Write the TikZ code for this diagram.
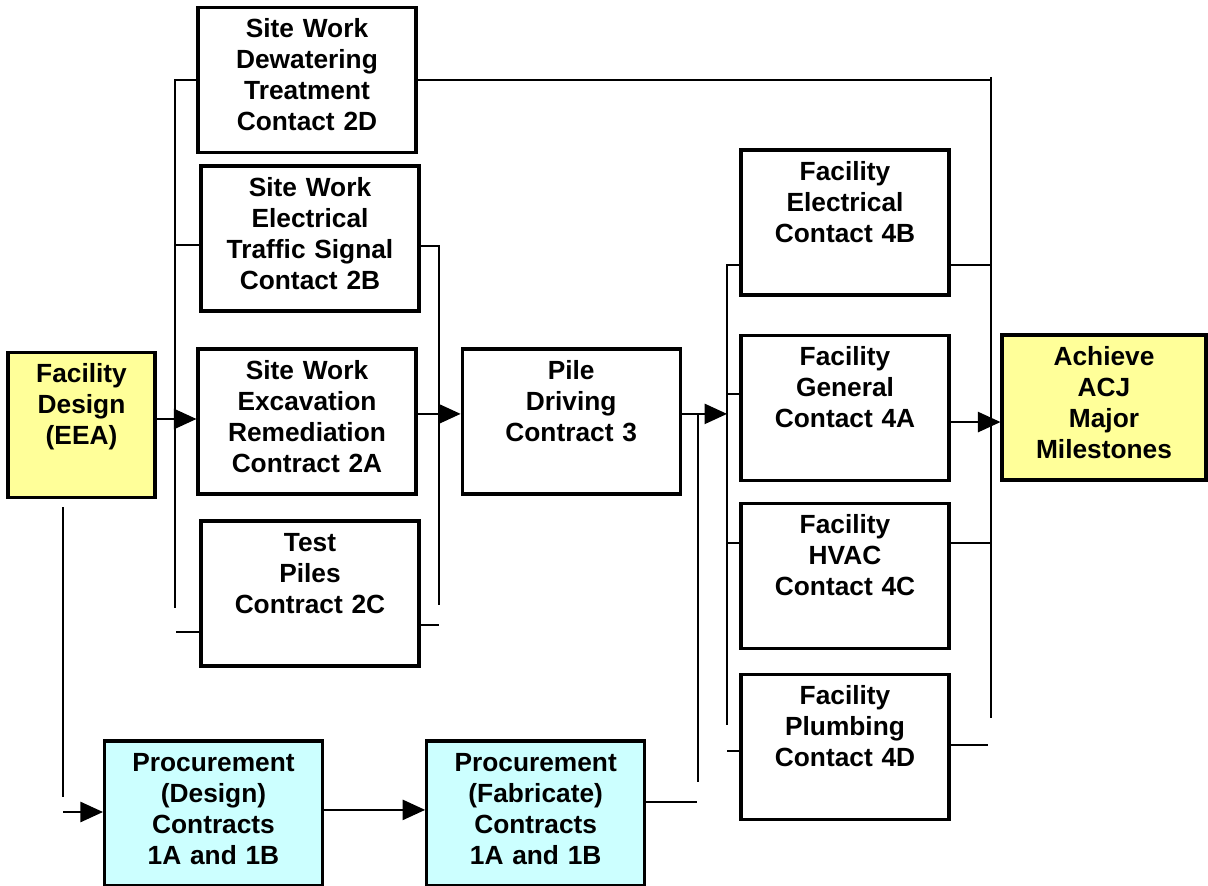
\documentclass[tikz,border=0pt]{standalone}
\usepackage{fontspec}
\setmainfont{Liberation Sans}
\usetikzlibrary{arrows.meta,positioning}
\definecolor{designyellow}{HTML}{FFFF99}
\definecolor{procurecyan}{HTML}{CCFFFF}
\begin{document}
\begin{tikzpicture}[
  x=0.025cm, y=-0.025cm,
  font=\fontsize{18.7}{22}\selectfont\bfseries,
  task/.style={
    draw=black,
    fill=white,
    line width=2.2pt,
    minimum width=5.45cm,
    minimum height=3.625cm,
    text width=5.2cm,
    align=center,
    inner xsep=1mm,
    inner ysep=4pt,
    text height=17pt,
    text depth=77pt
  },
  facility/.style={task,minimum width=5.2cm,text width=4.95cm},
  milestone/.style={task,fill=designyellow},
  procure/.style={task,fill=procurecyan},
  link/.style={draw=black,line width=0.9pt},
  flow/.style={link,-{Triangle[length=16pt,width=14.5pt]}}
]
  \useasboundingbox (0,0) rectangle (1208,886);

  \node[milestone,minimum width=3.675cm,text width=3.4cm] (design) at (81.5,425) {Facility\\Design\\(EEA)};

  \node[task] (sw2d) at (307,80) {Site Work\\Dewatering\\Treatment\\Contact 2D};
  \node[task] (sw2b) at (310,238.5) {Site Work\\Electrical\\Traffic Signal\\Contact 2B};
  \node[task] (sw2a) at (307,421.5) {Site Work\\Excavation\\Remediation\\Contract 2A};
  \node[task] (tp2c) at (310,593.5) {Test\\Piles\\Contract 2C};
  \node[task,right=1.075cm of sw2a] (pile) {Pile\\Driving\\Contract 3};

  \node[facility] (fe4b) at (845,222.5) {Facility\\Electrical\\Contact 4B};
  \node[facility,below=0.925cm of fe4b] (fg4a) {Facility\\General\\Contact 4A};
  \node[facility,below=0.5cm of fg4a] (fh4c) {Facility\\HVAC\\Contact 4C};
  \node[facility,below=0.575cm of fh4c] (fp4d) {Facility\\Plumbing\\Contact 4D};

  \node[milestone,minimum width=5.1cm,text width=4.8cm] (acj) at (1104,407.5) {Achieve\\ACJ\\Major\\Milestones};

  \node[procure] (procd) at (213.5,813.5) {Procurement\\(Design)\\Contracts\\1A and 1B};
  \node[procure,right=2.525cm of procd] (procf) {Procurement\\(Fabricate)\\Contracts\\1A and 1B};

  % left bus of the site work column
  \coordinate (lbtop) at (175,80);
  \coordinate (lbbot) at (175,608);
  \coordinate (lb2b) at (175,245);
  \coordinate (lb2c) at (176,632);
  \draw[link] (sw2d.west) -- (lbtop) -- (lbbot);
  \draw[link] (lb2b) -- (lb2b -| sw2b.west);
  \draw[link] (lb2c) -- (lb2c -| tp2c.west);
  \draw[flow] ([yshift=0.15cm]design.east) -- ([yshift=0.15cm]design.east -| sw2a.west);

  % right bus of the site work column
  \coordinate (rbtop) at (439,246);
  \coordinate (rbbot) at (439,605);
  \coordinate (rb2c) at (439,625);
  \draw[link] (rbtop -| sw2b.east) -- (rbtop) -- (rbbot);
  \draw[link] (rb2c -| tp2c.east) -- (rb2c);
  \draw[flow] ([yshift=0.19cm]sw2a.east) -- ([yshift=0.19cm]sw2a.east -| pile.west);

  % outer bus to the milestones
  \coordinate (obtop) at (991,77);
  \coordinate (obbot) at (991,718);
  \draw[link] (sw2d.east) -- (sw2d.east -| obtop);
  \draw[link] (obtop) -- (obbot);

  % facility column
  \coordinate (fbtop) at (727,265);
  \coordinate (fbbot) at (727,725);
  \coordinate (fb4a) at (727,394);
  \coordinate (fb4c) at (727,543);
  \coordinate (fb4d) at (727,751);
  \draw[link] (fbtop -| fe4b.west) -- (fbtop) -- (fbbot);
  \draw[link] (fb4a) -- (fb4a -| fg4a.west);
  \draw[link] (fb4c) -- (fb4c -| fh4c.west);
  \draw[link] (fb4d) -- (fb4d -| fp4d.west);
  \draw[flow] ([yshift=0.19cm]pile.east) -- ([yshift=0.19cm]pile.east -| fbtop);

  \draw[link] (fe4b.east |- fbtop) -- (fbtop -| obtop);
  \draw[link] (fb4c -| fh4c.east) -- (fb4c -| obtop);
  \coordinate (ob4d) at (988,745);
  \draw[link] (fp4d.east |- ob4d) -- (ob4d);
  \draw[flow] ([yshift=-0.36cm]fg4a.east) -- ([yshift=-0.36cm]fg4a.east -| acj.west);

  % procurement path
  \coordinate (pilejoin) at (698,414);
  \coordinate (fabbot) at (698,782);
  \coordinate (fabout) at (697,802);
  \draw[link] (pilejoin) -- (fabbot);
  \draw[link] (procf.east |- fabout) -- (fabout);

  \coordinate (dsgtop) at (63,507);
  \coordinate (dsgbot) at (63,797);
  \coordinate (dsgin) at (63,812);
  \draw[link] (dsgtop) -- (dsgbot);
  \draw[flow] (dsgin) -- (dsgin -| procd.west);
  \draw[flow] ([yshift=0.09cm]procd.east) -- ([yshift=0.09cm]procd.east -| procf.west);
\end{tikzpicture}
\end{document}
